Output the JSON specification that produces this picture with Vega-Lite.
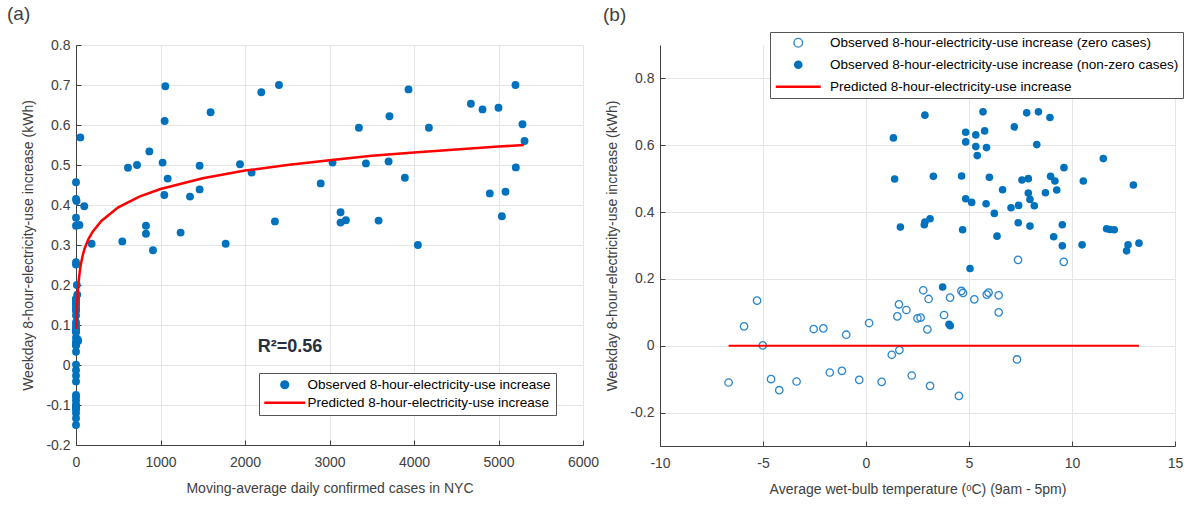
{
  "$schema": "https://vega.github.io/schema/vega-lite/v6.json",
  "background": "white",
  "padding": {"left": 7, "top": 5, "right": 3, "bottom": 5},
  "spacing": 77,
  "bounds": "flush",
  "resolve": {"scale": {"color": "independent"}, "legend": {"color": "independent"}},
  "config": {
    "font": "Liberation Sans",
    "view": {"stroke": null},
    "axis": {
      "labelFont": "Liberation Sans", "labelFontSize": 14, "labelColor": "#404040",
      "titleFont": "Liberation Sans", "titleFontSize": 14, "titleFontWeight": "normal", "titleColor": "#404040",
      "domainColor": "#404040", "tickColor": "#404040", "tickSize": -5,
      "labelFlush": false, "labelOverlap": false,
      "grid": true, "gridColor": "#e4e4e4"
    },
    "title": {"font": "Liberation Sans", "fontSize": 19, "fontWeight": "normal", "color": "#404040", "anchor": "start", "frame": "group"}
  },
  "hconcat": [
    {
      "width": 507,
      "height": 400,
      "title": {"text": "(a)", "dx": -69, "offset": 14},
      "layer": [
        {
          "data": {"values": [
            {"x": 0, "y": -0.11}, {"x": 0, "y": 0.058}, {"x": 0, "y": 0.135}, {"x": 0, "y": 0.001}, {"x": 0, "y": -0.10},
            {"x": 0, "y": -0.133}, {"x": 0, "y": -0.107}, {"x": 0, "y": 0.05}, {"x": 0, "y": 0.052}, {"x": 0, "y": -0.08},
            {"x": 0, "y": -0.075}, {"x": 0, "y": 0.033}, {"x": 0, "y": -0.102}, {"x": 0, "y": 0.068}, {"x": 0, "y": -0.108},
            {"x": 0, "y": -0.027}, {"x": 0, "y": -0.013}, {"x": 0, "y": 0.088}, {"x": 0, "y": 0.124}, {"x": 0, "y": 0.107},
            {"x": 0, "y": -0.089}, {"x": 0, "y": 0.082}, {"x": 0, "y": 0.084}, {"x": 0, "y": 0.166}, {"x": 0, "y": 0.049},
            {"x": 0, "y": 0.14}, {"x": 0, "y": -0.12}, {"x": 0, "y": 0.092}, {"x": 0, "y": 0.144}, {"x": 0, "y": -0.15},
            {"x": 0, "y": 0.164}, {"x": 0, "y": 0.158}, {"x": 0, "y": 0.139}, {"x": 0, "y": 0.153}, {"x": 0, "y": 0.159},
            {"x": 0, "y": 0.151}, {"x": 0, "y": 0.10}, {"x": 0, "y": -0.041}, {"x": 0, "y": 0.257}, {"x": 0, "y": 0.251},
            {"x": 0, "y": 0.457}, {"x": 0, "y": 0.415}, {"x": 6, "y": 0.41}, {"x": 0, "y": 0.368}, {"x": 0, "y": 0.348},
            {"x": 40, "y": 0.35}, {"x": 51, "y": 0.569}, {"x": 98, "y": 0.397}, {"x": 10, "y": 0.2}, {"x": 15, "y": 0.176},
            {"x": 20, "y": 0.064}, {"x": 25, "y": 0.06},
            {"x": 185, "y": 0.303}, {"x": 548, "y": 0.309}, {"x": 615, "y": 0.493}, {"x": 722, "y": 0.50}, {"x": 828, "y": 0.348},
            {"x": 828, "y": 0.328}, {"x": 868, "y": 0.534}, {"x": 911, "y": 0.287}, {"x": 1025, "y": 0.506}, {"x": 1045, "y": 0.425},
            {"x": 1049, "y": 0.61}, {"x": 1057, "y": 0.697}, {"x": 1085, "y": 0.466}, {"x": 1238, "y": 0.331}, {"x": 1349, "y": 0.421},
            {"x": 1463, "y": 0.498}, {"x": 1463, "y": 0.439}, {"x": 1593, "y": 0.632}, {"x": 1771, "y": 0.303}, {"x": 1941, "y": 0.502},
            {"x": 2078, "y": 0.481}, {"x": 2193, "y": 0.682}, {"x": 2354, "y": 0.359}, {"x": 2402, "y": 0.70}, {"x": 2896, "y": 0.454},
            {"x": 3036, "y": 0.506}, {"x": 3131, "y": 0.382}, {"x": 3131, "y": 0.356}, {"x": 3194, "y": 0.362}, {"x": 3348, "y": 0.593},
            {"x": 3431, "y": 0.504}, {"x": 3581, "y": 0.361}, {"x": 3699, "y": 0.509}, {"x": 3710, "y": 0.622}, {"x": 3892, "y": 0.468},
            {"x": 3935, "y": 0.689}, {"x": 4046, "y": 0.30}, {"x": 4176, "y": 0.593}, {"x": 4673, "y": 0.653}, {"x": 4811, "y": 0.639},
            {"x": 4897, "y": 0.429}, {"x": 5000, "y": 0.643}, {"x": 5040, "y": 0.372}, {"x": 5083, "y": 0.433}, {"x": 5201, "y": 0.70},
            {"x": 5205, "y": 0.494}, {"x": 5284, "y": 0.602}, {"x": 5308, "y": 0.56}
          ]},
          "mark": {"type": "point", "filled": true, "size": 62, "color": "#0072BD", "opacity": 1},
          "encoding": {
            "x": {"field": "x", "type": "quantitative", "scale": {"domain": [0, 6000], "nice": false},
                  "axis": {"values": [0, 1000, 2000, 3000, 4000, 5000, 6000], "format": "d", "labelPadding": 15, "titlePadding": 12,
                           "tickCount": 20, "labelOverlap": false, "labelFlush": false,
                           "title": "Moving-average daily confirmed cases in NYC"}},
            "y": {"field": "y", "type": "quantitative", "scale": {"domain": [-0.2, 0.8], "nice": false, "zero": false},
                  "axis": {"values": [-0.2, -0.1, 0, 0.1, 0.2, 0.3, 0.4, 0.5, 0.6, 0.7, 0.8], "labelPadding": 11, "titlePadding": 10,
                           "tickCount": 20, "labelOverlap": false, "labelFlush": false, "labelBound": false,
                           "labelExpr": "datum.value < 0 ? '-' + format(-datum.value, '.1~f') : format(datum.value, '.1~f')",
                           "title": "Weekday 8-hour-electricity-use increase (kWh)"}}
          }
        },
        {
          "data": {"values": [
            {"x": 5, "y": 0.09, "series": "Predicted 8-hour-electricity-use increase"},
            {"x": 10, "y": 0.135, "series": "Predicted 8-hour-electricity-use increase"},
            {"x": 20, "y": 0.18, "series": "Predicted 8-hour-electricity-use increase"},
            {"x": 30, "y": 0.207, "series": "Predicted 8-hour-electricity-use increase"},
            {"x": 50, "y": 0.243, "series": "Predicted 8-hour-electricity-use increase"},
            {"x": 75, "y": 0.27, "series": "Predicted 8-hour-electricity-use increase"},
            {"x": 100, "y": 0.29, "series": "Predicted 8-hour-electricity-use increase"},
            {"x": 150, "y": 0.316, "series": "Predicted 8-hour-electricity-use increase"},
            {"x": 200, "y": 0.334, "series": "Predicted 8-hour-electricity-use increase"},
            {"x": 300, "y": 0.36, "series": "Predicted 8-hour-electricity-use increase"},
            {"x": 500, "y": 0.394, "series": "Predicted 8-hour-electricity-use increase"},
            {"x": 750, "y": 0.421, "series": "Predicted 8-hour-electricity-use increase"},
            {"x": 1000, "y": 0.44, "series": "Predicted 8-hour-electricity-use increase"},
            {"x": 1500, "y": 0.467, "series": "Predicted 8-hour-electricity-use increase"},
            {"x": 2000, "y": 0.486, "series": "Predicted 8-hour-electricity-use increase"},
            {"x": 2500, "y": 0.5, "series": "Predicted 8-hour-electricity-use increase"},
            {"x": 3000, "y": 0.512, "series": "Predicted 8-hour-electricity-use increase"},
            {"x": 3500, "y": 0.523, "series": "Predicted 8-hour-electricity-use increase"},
            {"x": 4000, "y": 0.531, "series": "Predicted 8-hour-electricity-use increase"},
            {"x": 4500, "y": 0.539, "series": "Predicted 8-hour-electricity-use increase"},
            {"x": 5000, "y": 0.546, "series": "Predicted 8-hour-electricity-use increase"},
            {"x": 5300, "y": 0.55, "series": "Predicted 8-hour-electricity-use increase"}
          ]},
          "mark": {"type": "line", "strokeWidth": 2.5},
          "encoding": {
            "x": {"field": "x", "type": "quantitative"},
            "y": {"field": "y", "type": "quantitative"},
            "color": {"field": "series", "type": "nominal",
              "scale": {"domain": ["Observed 8-hour-electricity-use increase", "Predicted 8-hour-electricity-use increase"], "range": ["#0072BD", "#FF0000"]},
              "legend": {
                "title": null, "orient": "none", "legendX": 183, "legendY": 328, "direction": "vertical",
                "padding": 5, "rowPadding": 3, "symbolOffset": 14,
                "labelFont": "Liberation Sans", "labelFontSize": 13.5, "labelColor": "#000000", "labelOffset": 16, "labelLimit": 400,
                "strokeColor": "#555555", "fillColor": "#ffffff",
                "encode": {"symbols": {"update": {
                  "shape": {"signal": "datum.value === 'Predicted 8-hour-electricity-use increase' ? 'M-4.1,0H4.1' : 'circle'"},
                  "size": {"signal": "datum.value === 'Predicted 8-hour-electricity-use increase' ? 100 : 85"},
                  "fill": {"signal": "datum.value === 'Predicted 8-hour-electricity-use increase' ? 'transparent' : '#0072BD'"},
                  "stroke": {"signal": "datum.value === 'Predicted 8-hour-electricity-use increase' ? '#FF0000' : '#0072BD'"},
                  "strokeWidth": {"signal": "datum.value === 'Predicted 8-hour-electricity-use increase' ? 2.5 : 0"},
                  "opacity": {"value": 1}
                }}}
              }}
          }
        },
        {
          "data": {"values": [{"x": 2150, "y": 0.045, "t": "R²=0.56"}]},
          "mark": {"type": "text", "align": "left", "baseline": "middle", "fontWeight": "bold", "fontSize": 18, "color": "#26303d", "font": "Liberation Sans"},
          "encoding": {
            "x": {"field": "x", "type": "quantitative"},
            "y": {"field": "y", "type": "quantitative"},
            "text": {"field": "t"}
          }
        }
      ]
    },
    {
      "width": 515,
      "height": 401,
      "title": {"text": "(b)", "dx": -57, "offset": 7},
      "layer": [
        {
          "data": {"values": [
            {"t": -6.67, "y": -0.11}, {"t": -5.92, "y": 0.058}, {"t": -5.29, "y": 0.135}, {"t": -5.01, "y": 0.001}, {"t": -4.61, "y": -0.10},
            {"t": -4.21, "y": -0.133}, {"t": -3.37, "y": -0.107}, {"t": -2.54, "y": 0.05}, {"t": -2.07, "y": 0.052}, {"t": -1.76, "y": -0.08},
            {"t": -1.17, "y": -0.075}, {"t": -0.96, "y": 0.033}, {"t": -0.33, "y": -0.102}, {"t": 0.15, "y": 0.068}, {"t": 0.76, "y": -0.108},
            {"t": 1.25, "y": -0.027}, {"t": 1.62, "y": -0.013}, {"t": 1.52, "y": 0.088}, {"t": 1.60, "y": 0.124}, {"t": 1.96, "y": 0.107},
            {"t": 2.22, "y": -0.089}, {"t": 2.5, "y": 0.082}, {"t": 2.65, "y": 0.084}, {"t": 2.78, "y": 0.166}, {"t": 2.98, "y": 0.049},
            {"t": 3.04, "y": 0.14}, {"t": 3.11, "y": -0.12}, {"t": 3.79, "y": 0.092}, {"t": 4.08, "y": 0.144}, {"t": 4.51, "y": -0.15},
            {"t": 4.63, "y": 0.164}, {"t": 4.71, "y": 0.158}, {"t": 5.26, "y": 0.139}, {"t": 5.86, "y": 0.153}, {"t": 5.95, "y": 0.159},
            {"t": 6.44, "y": 0.151}, {"t": 6.44, "y": 0.10}, {"t": 7.33, "y": -0.041}, {"t": 7.38, "y": 0.257}, {"t": 9.6, "y": 0.251}
          ]},
          "mark": {"type": "point", "filled": false, "size": 55, "color": "#2a86cc", "strokeWidth": 1.3, "opacity": 1},
          "encoding": {
            "x": {"field": "t", "type": "quantitative", "scale": {"domain": [-10, 15], "nice": false, "zero": false},
                  "axis": {"values": [-10, -5, 0, 5, 10, 15], "labelPadding": 15, "titlePadding": 12,
                           "tickCount": 20, "labelOverlap": false, "labelFlush": false,
                           "labelExpr": "datum.value < 0 ? '-' + format(-datum.value, 'd') : format(datum.value, 'd')",
                           "title": "Average wet-bulb temperature (ᵒC) (9am - 5pm)"}},
            "y": {"field": "y", "type": "quantitative", "scale": {"domain": [-0.3, 0.9], "nice": false, "zero": false},
                  "axis": {"values": [-0.2, 0, 0.2, 0.4, 0.6, 0.8], "labelPadding": 11, "titlePadding": 10,
                           "tickCount": 20, "labelOverlap": false, "labelFlush": false,
                           "labelExpr": "datum.value < 0 ? '-' + format(-datum.value, '.1~f') : format(datum.value, '.1~f')",
                           "title": "Weekday 8-hour-electricity-use increase (kWh)"}}
          }
        },
        {
          "data": {"values": [
            {"t": 2.86, "y": 0.69}, {"t": 1.33, "y": 0.622}, {"t": 1.39, "y": 0.499}, {"t": 3.27, "y": 0.507}, {"t": 1.67, "y": 0.355},
            {"t": 2.83, "y": 0.362}, {"t": 2.86, "y": 0.37}, {"t": 3.11, "y": 0.38}, {"t": 5.68, "y": 0.70}, {"t": 7.80, "y": 0.697},
            {"t": 8.37, "y": 0.70}, {"t": 8.93, "y": 0.683}, {"t": 7.2, "y": 0.655}, {"t": 4.84, "y": 0.639}, {"t": 5.33, "y": 0.631},
            {"t": 5.76, "y": 0.643}, {"t": 4.84, "y": 0.61}, {"t": 5.33, "y": 0.596}, {"t": 5.85, "y": 0.593}, {"t": 5.40, "y": 0.569},
            {"t": 8.29, "y": 0.602}, {"t": 11.52, "y": 0.56}, {"t": 9.61, "y": 0.533}, {"t": 4.64, "y": 0.508}, {"t": 5.99, "y": 0.504},
            {"t": 6.63, "y": 0.467}, {"t": 7.57, "y": 0.496}, {"t": 7.88, "y": 0.5}, {"t": 8.96, "y": 0.507}, {"t": 9.17, "y": 0.493},
            {"t": 10.55, "y": 0.493}, {"t": 12.98, "y": 0.481}, {"t": 9.26, "y": 0.466}, {"t": 8.71, "y": 0.458}, {"t": 7.88, "y": 0.457},
            {"t": 7.96, "y": 0.438}, {"t": 8.17, "y": 0.419}, {"t": 4.84, "y": 0.44}, {"t": 5.13, "y": 0.429}, {"t": 5.83, "y": 0.425},
            {"t": 6.23, "y": 0.396}, {"t": 7.04, "y": 0.413}, {"t": 7.41, "y": 0.42}, {"t": 4.69, "y": 0.347}, {"t": 6.36, "y": 0.328},
            {"t": 7.39, "y": 0.368}, {"t": 7.96, "y": 0.358}, {"t": 9.11, "y": 0.326}, {"t": 9.53, "y": 0.362}, {"t": 9.53, "y": 0.299},
            {"t": 10.49, "y": 0.302}, {"t": 11.68, "y": 0.35}, {"t": 11.84, "y": 0.348}, {"t": 12.05, "y": 0.347}, {"t": 12.65, "y": 0.284},
            {"t": 12.72, "y": 0.302}, {"t": 13.25, "y": 0.307}, {"t": 5.05, "y": 0.231}, {"t": 3.72, "y": 0.176}, {"t": 4.03, "y": 0.064},
            {"t": 4.09, "y": 0.06}
          ]},
          "mark": {"type": "point", "filled": true, "size": 58, "color": "#0072BD", "opacity": 1},
          "encoding": {
            "x": {"field": "t", "type": "quantitative"},
            "y": {"field": "y", "type": "quantitative"}
          }
        },
        {
          "data": {"values": [
            {"t": -6.67, "y": 0, "series": "Predicted 8-hour-electricity-use increase"},
            {"t": 13.25, "y": 0, "series": "Predicted 8-hour-electricity-use increase"}
          ]},
          "mark": {"type": "line", "strokeWidth": 2.2},
          "encoding": {
            "x": {"field": "t", "type": "quantitative"},
            "y": {"field": "y", "type": "quantitative"},
            "color": {"field": "series", "type": "nominal",
              "scale": {"domain": ["Observed 8-hour-electricity-use increase (zero cases)", "Observed 8-hour-electricity-use increase (non-zero cases)", "Predicted 8-hour-electricity-use increase"], "range": ["#2a86cc", "#0072BD", "#FF0000"]},
              "legend": {
                "title": null, "orient": "none", "legendX": 110, "legendY": -13, "direction": "vertical",
                "padding": 4, "rowPadding": 7, "symbolOffset": 17.5,
                "labelFont": "Liberation Sans", "labelFontSize": 13.5, "labelColor": "#000000", "labelOffset": 25, "labelLimit": 450,
                "strokeColor": "#555555", "fillColor": "#ffffff",
                "encode": {"symbols": {"update": {
                  "shape": {"signal": "datum.value === 'Predicted 8-hour-electricity-use increase' ? 'M-4.5,0H4.5' : 'circle'"},
                  "size": {"signal": "datum.value === 'Predicted 8-hour-electricity-use increase' ? 100 : 75"},
                  "fill": {"signal": "datum.value === 'Predicted 8-hour-electricity-use increase' ? 'transparent' : (datum.value === 'Observed 8-hour-electricity-use increase (zero cases)' ? '#ffffff' : '#0072BD')"},
                  "stroke": {"signal": "datum.value === 'Predicted 8-hour-electricity-use increase' ? '#FF0000' : '#2a86cc'"},
                  "strokeWidth": {"signal": "datum.value === 'Predicted 8-hour-electricity-use increase' ? 2.5 : (datum.value === 'Observed 8-hour-electricity-use increase (zero cases)' ? 1.4 : 0)"},
                  "opacity": {"value": 1}
                }}}
              }}
          }
        }
      ]
    }
  ]
}
